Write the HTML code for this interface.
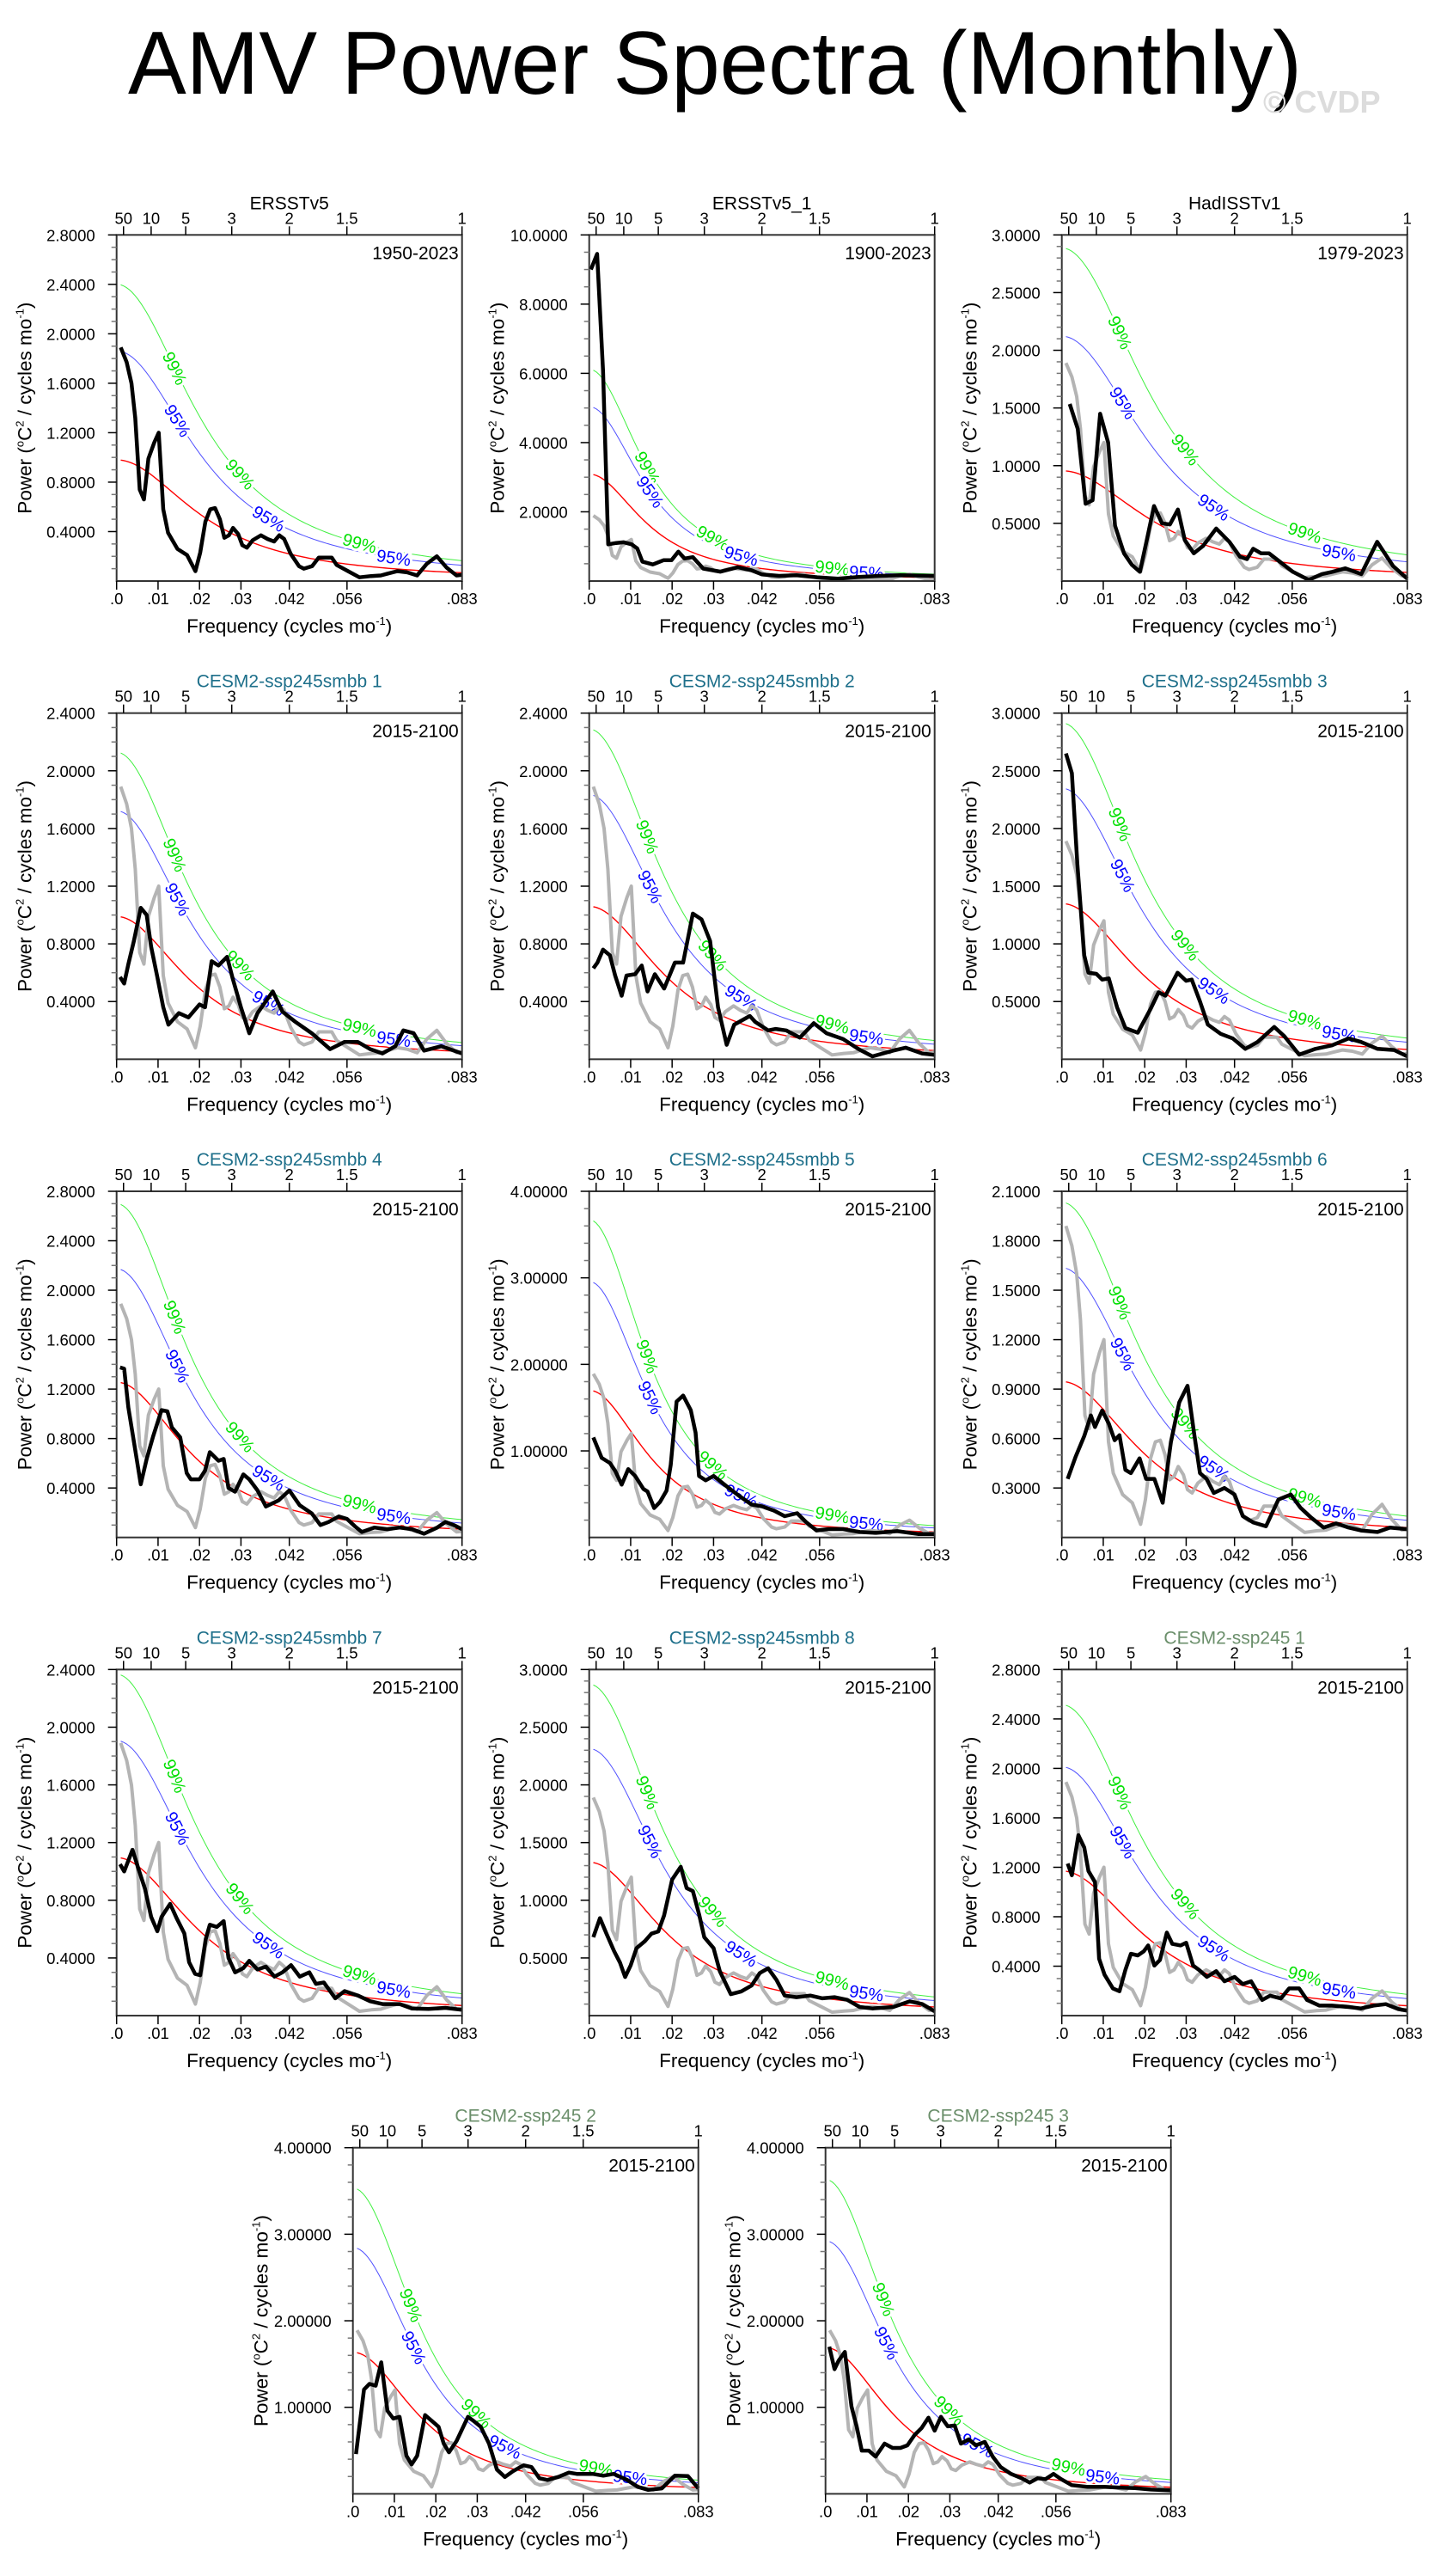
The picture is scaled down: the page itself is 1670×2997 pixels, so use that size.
<!DOCTYPE html>
<html><head><meta charset="utf-8">
<style>
html,body{margin:0;padding:0;background:#fff;}
svg{display:block;font-family:"Liberation Sans",Arial,sans-serif;}
</style></head>
<body>
<svg id="fig" width="1670" height="2997" viewBox="0 0 1670 2997" xmlns="http://www.w3.org/2000/svg">
<text x="149" y="109" font-size="104" textLength="1366" lengthAdjust="spacingAndGlyphs" fill="#000">AMV Power Spectra (Monthly)</text>
<text x="1470" y="131" font-size="36" font-weight="bold" fill="#dcdcdc">© CVDP</text>
</svg>
<script>
// ---- chart data (frequency in cycles per year = fraction of 1/12 cycles mo^-1) ----
const panelTitles = ["ERSSTv5","ERSSTv5_1","HadISSTv1","CESM2-ssp245smbb 1","CESM2-ssp245smbb 2","CESM2-ssp245smbb 3","CESM2-ssp245smbb 4","CESM2-ssp245smbb 5","CESM2-ssp245smbb 6","CESM2-ssp245smbb 7","CESM2-ssp245smbb 8","CESM2-ssp245 1","CESM2-ssp245 2","CESM2-ssp245 3"];
const panelYears = ["1950-2023","1900-2023","1979-2023","2015-2100","2015-2100","2015-2100","2015-2100","2015-2100","2015-2100","2015-2100","2015-2100","2015-2100","2015-2100","2015-2100"];
const yMax = [2.8,10,3.0,2.4,2.4,3.0,2.8,4.0,2.1,2.4,3.0,2.8,4.0,4.0];
const yMajor = [0.4,2,0.5,0.4,0.4,0.5,0.4,1,0.3,0.4,0.5,0.4,1,1];
const yMinor = [0.1,0.5,0.1,0.1,0.1,0.1,0.1,0.2,0.1,0.1,0.1,0.1,0.2,0.2];
const yDecimals = [4,4,4,4,4,4,4,5,4,4,4,4,5,5];
const red0 = [0.98,3.09,0.956,0.99,1.06,1.35,1.256,1.70,0.946,1.096,1.33,1.17,1.636,1.69];
const redEnd = [0.067,0.10,0.075,0.054,0.06,0.085,0.067,0.063,0.06,0.07,0.075,0.08,0.073,0.076];
const k95 = [1.9,1.63,2.22,1.74,1.73,1.74,1.73,1.74,1.73,1.74,1.74,1.72,1.74,1.73];
const k99 = [2.45,1.98,3.02,2.15,2.16,2.16,2.15,2.16,2.15,2.16,2.16,2.15,2.16,2.15];

const bottomTickFreq = [0,0.12,0.24,0.36,0.5,0.667,1];
const bottomTickLabels = [".0",".01",".02",".03",".042",".056",".083"];
const topTickPeriod = [50,10,5,3,2,1.5,1];
const topTickLabels = ["50","10","5","3","2","1.5","1"];

const freq1=[.012,.029,.043,.054,.067,.079,.092,.109,.122,.135,.149,.176,.204,.228,.242,.257,.271,.285,.299,.312,.325,.337,.352,.364,.377,.394,.418,.437,.456,.471,.485,.504,.528,.542,.566,.585,.604,.623,.637,.670,.703,.737,.765,.784,.813,.841,.870,.898,.927,.955,.984,1.0];
const pow1=[1.89,1.77,1.60,1.32,.74,.66,.99,1.12,1.20,.58,.39,.26,.21,.08,.23,.48,.58,.59,.50,.35,.37,.43,.38,.29,.27,.33,.37,.34,.32,.37,.34,.22,.12,.10,.12,.19,.19,.19,.13,.08,.03,.04,.045,.06,.08,.07,.045,.14,.20,.11,.045,.05];
const freq2=[.005,.023,.04,.055,.078,.10,.123,.139,.154,.184,.215,.238,.258,.276,.30,.33,.38,.43,.47,.50,.55,.60,.66,.72,.78,.84,.90,1.0];
const pow2=[9.0,9.45,6.07,1.06,1.10,1.12,1.06,.94,.56,.48,.60,.60,.85,.65,.69,.36,.27,.40,.31,.19,.15,.17,.11,.07,.12,.15,.17,.15];
const freq3=[.023,.046,.069,.089,.111,.134,.154,.18,.203,.226,.246,.267,.29,.313,.336,.356,.382,.409,.447,.485,.516,.536,.554,.577,.60,.63,.669,.715,.753,.783,.821,.867,.913,.959,1.0];
const pow3=[1.535,1.32,.67,.70,1.45,1.20,.48,.24,.14,.08,.355,.65,.50,.49,.62,.355,.24,.305,.455,.34,.21,.19,.28,.24,.24,.17,.08,.01,.06,.08,.11,.06,.34,.13,.02];
const freq4=[.01,.022,.034,.05,.07,.087,.10,.118,.135,.15,.18,.208,.24,.256,.275,.295,.32,.336,.36,.384,.408,.452,.48,.517,.565,.618,.66,.698,.734,.77,.807,.83,.86,.89,.94,1.0];
const pow4=[.57,.525,.66,.82,1.05,1.0,.78,.57,.36,.24,.32,.29,.38,.36,.68,.65,.71,.56,.36,.18,.32,.47,.33,.26,.18,.07,.12,.12,.07,.04,.09,.20,.18,.06,.09,.04];
const freq5=[.012,.024,.04,.06,.075,.094,.108,.133,.152,.169,.19,.217,.248,.272,.30,.325,.35,.373,.398,.42,.465,.48,.518,.54,.57,.61,.65,.687,.735,.78,.82,.88,.916,.964,1.0];
const pow5=[.63,.67,.76,.72,.58,.44,.58,.59,.65,.47,.59,.49,.67,.67,1.01,.97,.82,.36,.10,.24,.30,.26,.20,.21,.20,.15,.25,.18,.14,.07,.02,.06,.08,.04,.03];
const freq6=[.012,.029,.045,.065,.077,.10,.117,.136,.16,.184,.22,.256,.28,.30,.335,.36,.376,.40,.423,.46,.495,.531,.567,.615,.644,.687,.734,.782,.83,.866,.914,.962,1.0];
const pow6=[2.65,2.48,1.69,.90,.75,.74,.69,.70,.45,.27,.23,.43,.58,.55,.75,.68,.69,.50,.30,.22,.18,.09,.15,.28,.20,.04,.09,.12,.18,.15,.09,.08,.025];
const freq7=[.01,.022,.034,.05,.07,.087,.106,.13,.147,.16,.184,.203,.215,.24,.256,.27,.295,.31,.324,.343,.367,.384,.408,.432,.469,.50,.53,.565,.59,.614,.643,.667,.69,.71,.746,.783,.82,.855,.89,.928,.952,.976,1.0];
const pow7=[1.375,1.365,1.05,.775,.43,.635,.82,1.03,1.02,.89,.81,.52,.47,.47,.54,.69,.62,.635,.40,.37,.51,.47,.38,.25,.30,.38,.26,.195,.10,.125,.17,.15,.09,.044,.08,.067,.08,.067,.03,.08,.125,.10,.067];
const freq8=[.012,.036,.06,.075,.094,.113,.133,.157,.169,.188,.205,.224,.236,.253,.272,.294,.308,.318,.337,.36,.398,.434,.47,.50,.535,.566,.602,.627,.658,.692,.735,.783,.83,.892,.952,1.0];
const pow8=[1.155,.92,.86,.77,.61,.79,.71,.56,.53,.34,.41,.54,.84,1.57,1.64,1.47,1.21,.71,.66,.71,.59,.48,.38,.36,.31,.245,.28,.18,.08,.096,.096,.063,.053,.073,.04,.04];
const freq9=[.017,.04,.065,.084,.096,.117,.136,.153,.167,.184,.20,.225,.244,.268,.292,.316,.34,.364,.383,.40,.419,.44,.471,.50,.524,.555,.591,.627,.663,.691,.722,.758,.794,.83,.866,.914,.95,1.0];
const pow9=[.355,.49,.615,.74,.67,.77,.69,.59,.62,.41,.39,.48,.355,.355,.21,.58,.82,.92,.63,.39,.355,.27,.30,.26,.13,.09,.068,.23,.26,.18,.12,.06,.085,.06,.042,.033,.06,.05];
const freq10=[.01,.022,.046,.063,.082,.10,.118,.13,.155,.174,.196,.21,.227,.242,.258,.27,.29,.31,.324,.343,.367,.384,.408,.432,.457,.48,.505,.53,.558,.577,.60,.633,.66,.698,.734,.77,.82,.855,.903,.952,1.0];
const pow10=[1.05,1.00,1.15,1.02,.88,.685,.585,.685,.775,.675,.57,.37,.29,.28,.53,.63,.615,.655,.40,.30,.33,.38,.32,.34,.27,.30,.35,.27,.30,.22,.23,.12,.17,.14,.10,.08,.08,.05,.046,.054,.04];
const freq11=[.012,.031,.05,.072,.089,.104,.12,.137,.161,.18,.2,.217,.24,.265,.282,.30,.318,.333,.36,.378,.41,.44,.47,.494,.518,.542,.566,.60,.64,.675,.71,.747,.783,.82,.88,.928,.964,1.0];
const pow11=[.68,.845,.71,.56,.46,.335,.435,.585,.645,.71,.73,.87,1.18,1.29,1.105,1.08,.88,.68,.585,.385,.186,.21,.26,.37,.41,.31,.174,.16,.174,.15,.16,.137,.075,.062,.075,.124,.1,.037];
const freq12=[.017,.029,.048,.065,.077,.096,.108,.124,.148,.167,.184,.20,.22,.237,.25,.268,.284,.304,.32,.344,.36,.38,.397,.42,.447,.471,.50,.524,.548,.58,.603,.634,.658,.687,.71,.746,.782,.83,.866,.902,.938,.974,1.0];
const pow12=[1.23,1.135,1.46,1.36,1.17,1.08,.46,.33,.22,.197,.37,.50,.487,.52,.568,.405,.45,.672,.58,.568,.59,.405,.37,.313,.36,.278,.313,.255,.278,.127,.162,.139,.22,.22,.127,.081,.081,.07,.058,.081,.093,.053,.04];
const freq13=[.009,.032,.048,.066,.082,.10,.117,.135,.155,.17,.186,.209,.232,.248,.263,.278,.30,.333,.35,.37,.394,.417,.44,.463,.494,.517,.54,.563,.594,.625,.648,.694,.725,.755,.794,.825,.855,.894,.932,.97,1.0];
const pow13=[.46,1.205,1.27,1.25,1.52,.96,.87,.89,.44,.34,.44,.91,.83,.775,.58,.48,.61,.89,.84,.775,.58,.28,.195,.26,.33,.31,.18,.16,.195,.245,.23,.23,.21,.23,.16,.08,.046,.063,.21,.205,.063];
const freq14=[.011,.026,.038,.056,.075,.09,.105,.125,.145,.171,.194,.217,.237,.258,.278,.298,.316,.334,.354,.374,.392,.415,.435,.461,.484,.507,.537,.568,.591,.614,.637,.66,.682,.713,.759,.805,.85,.896,.942,1.0];
const pow14=[1.70,1.44,1.54,1.64,1.01,.78,.50,.50,.43,.58,.53,.53,.56,.68,.76,.88,.73,.89,.78,.79,.58,.63,.56,.60,.43,.31,.23,.18,.13,.18,.17,.23,.17,.10,.08,.08,.073,.066,.05,.04];

const freqs=[freq1,freq2,freq3,freq4,freq5,freq6,freq7,freq8,freq9,freq10,freq11,freq12,freq13,freq14];
const pows=[pow1,pow2,pow3,pow4,pow5,pow6,pow7,pow8,pow9,pow10,pow11,pow12,pow13,pow14];
const obsRefIndex = 0; // gray reference spectrum (ERSSTv5) shown in other panels

// ---- layout ----
const NS="http://www.w3.org/2000/svg";
const svg=document.getElementById('fig');
const PW=402, PH=402.7;
const colX=[135.7,685.7,1235.7];
const rowY0=273.3, rowDY=556.35;
function panelPos(i){
  if(i<12){return [colX[i%3], rowY0+rowDY*Math.floor(i/3)];}
  return [[410.7,960.7][i-12], rowY0+rowDY*4];
}
function mk(tag,attrs,parent){const e=document.createElementNS(NS,tag);for(const k in attrs)e.setAttribute(k,attrs[k]);(parent||svg).appendChild(e);return e;}

function solveR(q){
  const c=Math.cos(Math.PI/6);let lo=0,hi=0.999;
  for(let it=0;it<60;it++){const r=(lo+hi)/2;const v=(1+r*r-2*r*c)/((1-r)*(1-r));if(v<q)lo=r;else hi=r;}
  return (lo+hi)/2;
}

for(let i=0;i<14;i++){
  const [px,py]=panelPos(i);
  const g=mk('g',{});
  
  
  const xs=f=>px+f*PW;
  const ys=v=>py+PH-(v/yMax[i])*PH;
  const clip='clip'+i;
  const cp=mk('clipPath',{id:clip},g);mk('rect',{x:px,y:py,width:PW,height:PH},cp);

  const tcol = i<3?'#000':(i<11?'#1d6f8a':'#6b8f6b');
  const tt=mk('text',{x:px+PW/2,y:py-30,'font-size':21,'text-anchor':'middle',fill:tcol},g);
  
  
  tt.textContent=panelTitles[i];

  const r=solveR(red0[i]/redEnd[i]);
  const A=red0[i]*(1-r)*(1-r);
  const redAt=f=>A/(1+r*r-2*r*Math.cos(2*Math.PI*f/12));
  function curvePts(k){const pts=[];for(let j=0;j<=120;j++){const f=0.012+j*(0.988/120);pts.push([xs(f),ys(k*redAt(f))]);}return pts;}
  const curves=[[1,'#ff0000',1.4,'red-noise-curve'],[k95[i],'#5050ff',1,'ci95-curve'],[k99[i],'#40f040',1,'ci99-curve']];
  const curvePtsAll={};
  curves.forEach(([k,col,w,name])=>{
    const pts=curvePts(k);curvePtsAll[name]=pts;
    const pl=mk('polyline',{points:pts.map(p=>p.join(',')).join(' '),fill:'none',stroke:col,'stroke-width':w,'clip-path':'url(#'+clip+')'},g);
    
    
  });
  function addLabels(name,fr,txt,col){
    const pts=curvePtsAll[name];
    fr.forEach(fv=>{
      const idx=Math.max(1,Math.min(119,Math.round((fv-0.012)/(0.988/120))));
      const a=pts[idx-1],b=pts[idx+1],c=pts[idx];
      if(c[1]<py+5||c[1]>py+PH)return;
      let ang=Math.atan2(b[1]-a[1],b[0]-a[0])*180/Math.PI;
      const t=mk('text',{x:c[0],y:c[1]+7,'font-size':20,'text-anchor':'middle',fill:col,stroke:'#fff','stroke-width':6,'paint-order':'stroke',transform:'rotate('+ang.toFixed(1)+' '+c[0].toFixed(1)+' '+c[1].toFixed(1)+')'},g);
      
      
      t.textContent=txt;
    });
  }
  addLabels('ci99-curve',[0.17,0.36,0.70],'99%','#00e000');
  addLabels('ci95-curve',[0.18,0.44,0.80],'95%','#0000ff');

  if(i!==obsRefIndex){
    const f=freqs[obsRefIndex],p=pows[obsRefIndex];
    const pts=f.map((fv,j)=>xs(fv).toFixed(1)+','+ys(p[j]).toFixed(1)).join(' ');
    const gl=mk('polyline',{points:pts,fill:'none',stroke:'#b4b4b4','stroke-width':4,'stroke-linejoin':'round','clip-path':'url(#'+clip+')'},g);
    
    
  }
  {
    const f=freqs[i],p=pows[i];const n=Math.min(f.length,p.length);
    const pts=[];for(let j=0;j<n;j++)pts.push(xs(f[j]).toFixed(1)+','+ys(p[j]).toFixed(1));
    const bl=mk('polyline',{points:pts.join(' '),fill:'none',stroke:'#000','stroke-width':4.5,'stroke-linejoin':'round'},g);
    
    
  }

  const fr=mk('rect',{x:px,y:py,width:PW,height:PH,fill:'none',stroke:'#333','stroke-width':2},g);
  
  

  const nMin=Math.round(yMax[i]/yMinor[i]);
  for(let j=1;j<=nMin;j++){
    const v=j*yMinor[i];const y=ys(v);
    const isMaj=Math.abs(v/yMajor[i]-Math.round(v/yMajor[i]))<1e-6;
    mk('line',{x1:px,x2:px-(isMaj?10:6),y1:y,y2:y,stroke:isMaj?'#000':'#777','stroke-width':1.5},g);
    if(isMaj){
      const lt=mk('text',{x:px-25,y:y+7,'font-size':18.5,'text-anchor':'end',fill:'#000'},g);
      
      
      lt.textContent=v.toFixed(yDecimals[i]);
    }
  }
  bottomTickFreq.forEach((f,j)=>{
    const x=xs(f);
    mk('line',{x1:x,x2:x,y1:py+PH,y2:py+PH+10,stroke:'#000','stroke-width':1.5},g);
    const lt=mk('text',{x:x,y:py+PH+27,'font-size':18.5,'text-anchor':'middle',fill:'#000'},g);
    
    
    lt.textContent=bottomTickLabels[j];
  });
  topTickPeriod.forEach((P,j)=>{
    const x=xs(1/P);
    mk('line',{x1:x,x2:x,y1:py,y2:py-10,stroke:'#000','stroke-width':1.5},g);
    const lt=mk('text',{x:x,y:py-13,'font-size':18.5,'text-anchor':'middle',fill:'#000'},g);
    
    
    lt.textContent=topTickLabels[j];
  });
  const yr=mk('text',{x:px+PW-4,y:py+28,'font-size':21,'text-anchor':'end',fill:'#000'},g);
  
  
  yr.textContent=panelYears[i];
  const xt=mk('text',{x:px+PW/2,y:py+PH+60,'font-size':22.5,'text-anchor':'middle',fill:'#000'},g);
  
  
  xt.innerHTML='Frequency (cycles mo<tspan dy="-9" font-size="13">-1</tspan><tspan dy="9">)</tspan>';
  const cy=py+PH/2, cx=px-107;
  const yt=mk('text',{x:cx,y:cy+8,'font-size':22.5,'text-anchor':'middle',fill:'#000',transform:'rotate(-90 '+cx+' '+cy+')'},g);
  
  
  yt.innerHTML='Power (<tspan dy="-9" font-size="13">o</tspan><tspan dy="9">C</tspan><tspan dy="-9" font-size="13">2</tspan><tspan dy="9"> / cycles mo</tspan><tspan dy="-9" font-size="13">-1</tspan><tspan dy="9">)</tspan>';
}
</script>
</body></html>
